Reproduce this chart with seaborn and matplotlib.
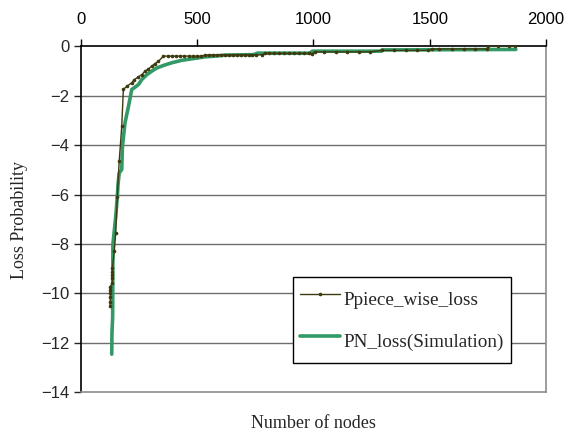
import numpy as np
import pandas as pd
import matplotlib
matplotlib.use("Agg")
import matplotlib.pyplot as plt
import seaborn as sns

# Ppiece_wise_loss series
piece_x = [126, 126, 127, 127, 127, 126, 136, 136, 136, 136, 136, 144, 150, 157, 165, 176, 183,
           198, 219, 230, 248, 262, 276, 291, 305, 319, 334, 355,
           373, 391, 409, 427, 445, 463, 481, 499, 517, 534,
           551, 568, 585, 602, 619, 636, 653, 670, 687, 704, 721, 738, 755, 779,
           790, 811, 832, 853, 874, 895, 916, 937, 958, 979, 995, 1005,
           1046, 1096, 1145, 1195, 1243, 1293,
           1348, 1397, 1445, 1494, 1510,
           1541, 1597, 1646, 1696, 1745, 1751, 1792, 1842, 1865]
piece_y = [-10.51, -10.34, -10.16, -10.0, -9.86, -9.73, -9.59, -9.39, -9.25, -9.12, -8.98, -8.3, -7.56, -6.1, -4.66, -3.24, -1.75,
           -1.62, -1.48, -1.35, -1.24, -1.15, -1.01, -0.92, -0.81, -0.70, -0.61, -0.40,
           -0.40, -0.40, -0.40, -0.40, -0.40, -0.40, -0.40, -0.40, -0.40, -0.36,
           -0.35, -0.35, -0.35, -0.35, -0.35, -0.35, -0.35, -0.35, -0.35, -0.35, -0.35, -0.35, -0.35, -0.35,
           -0.29, -0.29, -0.29, -0.29, -0.29, -0.29, -0.29, -0.29, -0.29, -0.29, -0.31, -0.23,
           -0.23, -0.23, -0.23, -0.23, -0.23, -0.17,
           -0.17, -0.17, -0.17, -0.17, -0.11,
           -0.11, -0.11, -0.11, -0.11, -0.11, 0.0, 0.0, 0.0, 0.0]

# PN_loss(Simulation) series
sim_x = [133, 134, 137, 138, 140, 150, 157, 160, 165, 176, 179, 190, 205, 219, 233, 248, 262, 284,
         305, 327, 355, 391, 434, 484, 534, 577, 620, 743, 760, 985, 995, 1290, 1295, 1870]
sim_y = [-12.46, -11.6, -10.94, -8.0, -7.84, -6.9, -6.08, -5.6, -5.13, -4.99, -4.05, -3.1, -2.43, -1.75,
         -1.66, -1.55, -1.35, -1.15, -1.01, -0.88, -0.78, -0.67, -0.57, -0.5, -0.43, -0.4, -0.36,
         -0.34, -0.28, -0.28, -0.2, -0.2, -0.15, -0.13]

x_ticks = [0, 500, 1000, 1500, 2000]
y_ticks = [0, -2, -4, -6, -8, -10, -12, -14]

labels = ["Ppiece_wise_loss", "PN_loss(Simulation)"]

df_piece = pd.DataFrame({"x": piece_x, "y": piece_y, "s": labels[0]})
df_sim = pd.DataFrame({"x": sim_x, "y": sim_y, "s": labels[1]})

sns.set_style("white")
fig = plt.figure(figsize=(5.73, 4.32), dpi=100)
ax = fig.add_axes([0.141, 0.092, 0.812, 0.801])

serif = ["Liberation Serif", "DejaVu Serif"]
sansf = ["Liberation Sans", "DejaVu Sans"]

for y in y_ticks[1:-1]:
    ax.axhline(y, color="#6e6e6e", lw=1.0, zorder=1)

sns.lineplot(data=df_sim, x="x", y="y", ax=ax, sort=False, estimator=None,
             color="#339966", lw=2.6, zorder=3, label=labels[1])
sns.lineplot(data=df_piece, x="x", y="y", ax=ax, sort=False, estimator=None,
             color="#3d3a0e", lw=1.0, marker="o", markersize=2.6, markeredgewidth=0,
             zorder=4, label=labels[0])

ax.set_xlim(0, 2000)
ax.set_ylim(-14, 0)
ax.set_xticks(x_ticks)
ax.set_yticks(y_ticks)
ax.xaxis.tick_top()
ax.tick_params(axis="x", which="both", top=True, bottom=False, direction="out", length=5,
               width=1, labelsize=12, pad=9, colors="black")
ax.tick_params(axis="y", direction="out", length=5, width=1, labelsize=12, pad=3, left=True)
for lab in ax.get_xticklabels() + ax.get_yticklabels():
    lab.set_fontfamily(sansf)

ax.spines["top"].set_color("black")
ax.spines["left"].set_color("black")
ax.spines["right"].set_color("#8c8c8c")
ax.spines["bottom"].set_color("#8c8c8c")
for s in ax.spines.values():
    s.set_linewidth(1.2)

ax.set_xlabel("")
ax.set_ylabel("")
fig.text(0.547, 0.0, "Number of nodes", family=serif, fontsize=13, ha="center", va="bottom")
fig.text(0.034, 0.49, "Loss Probability", family=serif, fontsize=13, rotation=90,
         ha="center", va="center")

handles, labs = ax.get_legend_handles_labels()
order = [labs.index(labels[0]), labs.index(labels[1])]
leg = ax.legend([handles[i] for i in order], [labs[i] for i in order],
                loc="upper left", bbox_to_anchor=(0.4556, 0.333), frameon=True, fancybox=False,
                framealpha=1, edgecolor="black", prop={"family": serif, "size": 13.8},
                handlelength=2.1, handleheight=2.0, handletextpad=0.2, labelspacing=0.65,
                borderpad=0.36, borderaxespad=0)
leg.get_frame().set_linewidth(1.0)
leg.set_zorder(5)

fig.savefig("out.png", dpi=100)
